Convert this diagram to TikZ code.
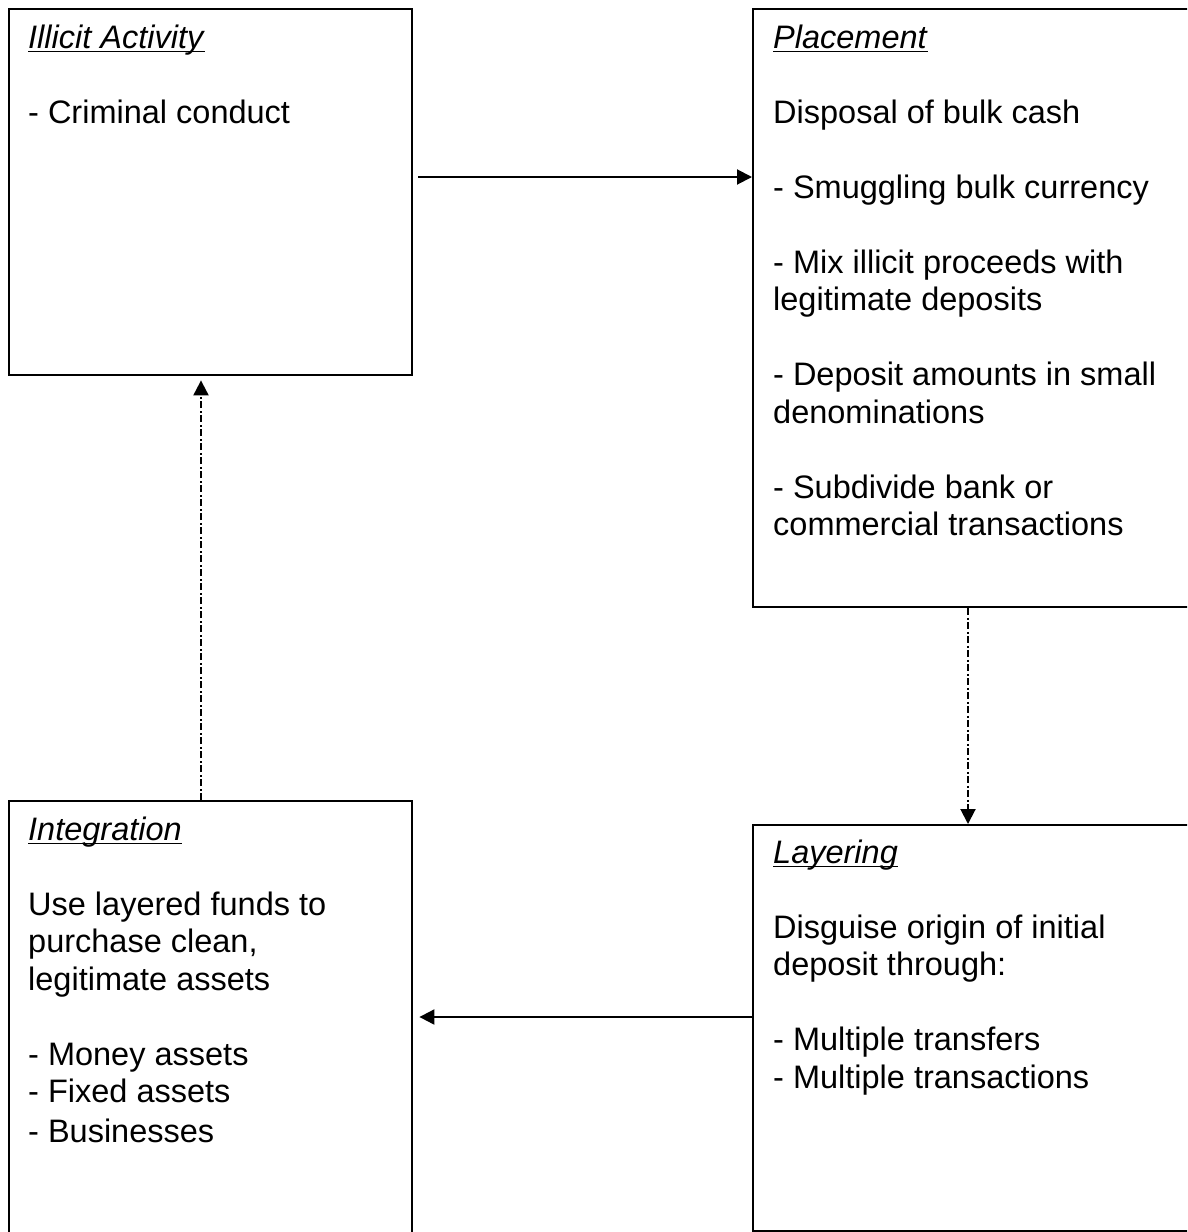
\documentclass[tikz,border=0pt]{standalone}
\usepackage{fontspec}
\setmainfont{Liberation Sans}
\usetikzlibrary{arrows.meta}

\tikzset{
  stagebox/.style={draw, rectangle, line width=2.4pt, anchor=north west, inner sep=0pt},
  stagetext/.style={anchor=north west, align=left, inner sep=0pt,
    font=\fontsize{32.5}{37.5}\selectfont},
  flow/.style={line width=2pt, -{Triangle[length=15pt,width=15pt]}},
  backflow/.style={flow, dash pattern=on 7pt off 2.5pt on 2pt off 2.5pt},
}
\newsavebox{\titlebox}
\newcommand{\stagetitle}[1]{\sbox{\titlebox}{\textit{#1}}%
  \rlap{\rule[-4pt]{\wd\titlebox}{1.8pt}}\usebox{\titlebox}}

\begin{document}
\begin{tikzpicture}[x=1pt,y=-1pt]
    \useasboundingbox (0,0) rectangle (1187,1232);
    \clip (0,0) rectangle (1187,1232);
    % the four stages
    \node[stagebox, minimum width=403pt, minimum height=366pt] (illicit) at (8,8) {};
    \node[stagebox, minimum width=448pt, minimum height=598pt] (placement) at (752,8) {};
    \node[stagebox, minimum width=403pt, minimum height=450pt] (integration) at (8,800) {};
    \node[stagebox, minimum width=448pt, minimum height=406pt] (layering) at (752,824) {};
    % texts, first baseline 23.3pt below the top
    \node[stagetext] (illicit-text) at (28,24.7)
      {\stagetitle{Illicit Activity}\\[37.5pt]
       - Criminal conduct};
    \node[stagetext] (placement-text) at (773,24.7)
      {\stagetitle{Placement}\\[37.5pt]
       Disposal of bulk cash\\[37.5pt]
       - Smuggling bulk currency\\[37.5pt]
       - Mix illicit proceeds with\\
       legitimate deposits\\[37.5pt]
       - Deposit amounts in small\\
       denominations\\[37.5pt]
       - Subdivide bank or\\
       commercial transactions};
    \node[stagetext] (integration-text) at (28,816.7)
      {\stagetitle{Integration}\\[37.5pt]
       Use layered funds to\\
       purchase clean,\\
       legitimate assets\\[37.5pt]
       - Money assets\\
       - Fixed assets\\[2pt]
       - Businesses};
    \node[stagetext] (layering-text) at (773,839.7)
      {\stagetitle{Layering}\\[37.5pt]
       Disguise origin of initial\\
       deposit through:\\[37.5pt]
       - Multiple transfers\\
       - Multiple transactions};
    % connectors
    \coordinate (toprow) at (0,177);
    \coordinate (lowrow) at (0,1017);
    \coordinate (rightcol) at (968,0);
    \coordinate (leftcol) at (201,0);
    \draw[flow, shorten <=5pt] (illicit.east |- toprow) -- (placement.west |- toprow);
    \draw[backflow] (placement.south -| rightcol) -- (layering.north -| rightcol);
    \draw[flow, shorten >=6pt] (layering.west |- lowrow) -- (integration.east |- lowrow);
    \draw[backflow, shorten >=4pt] (integration.north -| leftcol) -- (illicit.south -| leftcol);
  \end{tikzpicture}
\end{document}
